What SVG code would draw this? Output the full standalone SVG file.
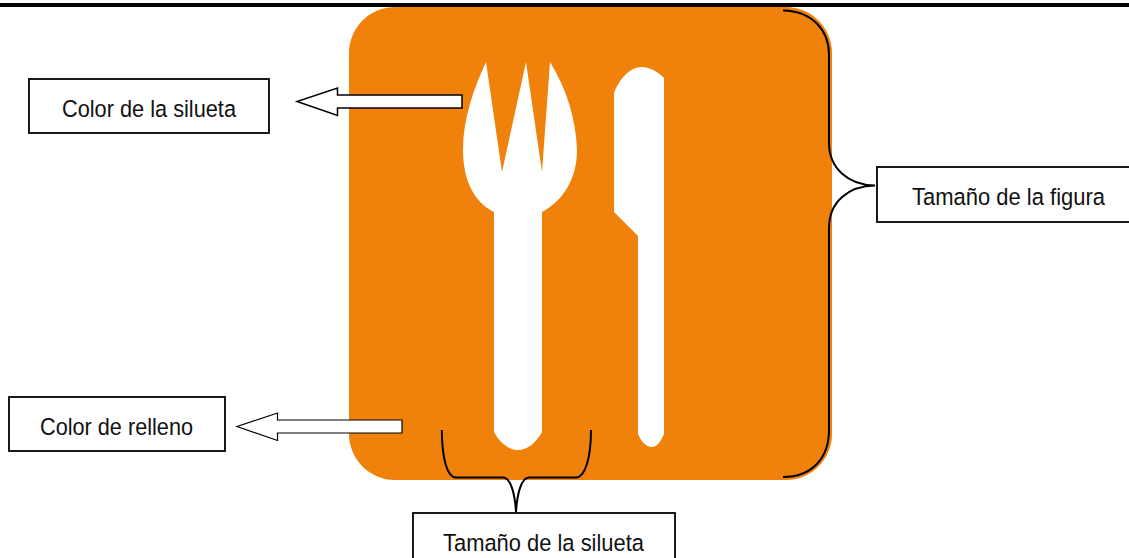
<svg xmlns="http://www.w3.org/2000/svg" width="1129" height="558" viewBox="0 0 1129 558">
<style>
.box{fill:#fff;stroke:#000;stroke-width:1.8}
.lbl{font-family:"Liberation Sans",Arial,sans-serif;font-size:24.5px;fill:#111;text-anchor:middle}
.arrow{fill:#fff;stroke:#000;stroke-width:1.2}
.brace{fill:none;stroke:#000;stroke-width:2}
.sil{fill:#fff}
</style>
<rect width="1129" height="558" fill="#fff"/>
<rect id="top-rule" x="0" y="3" width="1129" height="4" fill="#000"/>
<g id="figure">
<rect x="349" y="7" width="483" height="473" rx="46" ry="46" fill="#f0820c"/>
<path class="sil" d="M486 62 L502 172 L526 62 L542 172 L550 62 C566 88 576 118 577 150 C577 178 564 200 542 212 L542 432 C536 443 527 450 518 450 C509 450 500 443 494 432 L494 212 C474 202 463 180 463 150 C463 118 474 88 486 62 Z"/>
<path class="sil" d="M614 93 C620 78 630 67 642 67 C650 67 658 72 664 78 L664 434 C661 441 657 447 652 447 C646 447 641 441 638 434 L638 236 L614 212 Z"/>
</g>
<g id="connectors">
<path class="brace" d="M783 10.500C812 11 829 30 829 55 L829 143 C829 168 848 185 875 185.500 C848 186 829 202 829 228 L829 430 C829 458 812 477 783 477"/>
<path class="brace" d="M441.800 430 C442 458 447 477.500 456 477.500 L503 477.500 C511 477.500 515 495 516 512 C517 495 521 477.500 529 477.500 L576 477.500 C585 477.500 591 458 591 430"/>
</g>
<g id="arrow-silueta"><path class="arrow" d="M462 95 L337.500 95 L337.500 88 L297 101.500 L337.500 115.500 L337.500 108 L462 108 Z" style="stroke-width:1.500"/></g>
<g id="arrow-relleno"><path class="arrow" d="M402 420 L277.500 420 L277.500 413 L237 426.500 L277.500 440.500 L277.500 433 L402 433 Z"/></g>
<g id="node-color-silueta"><rect class="box" x="29" y="79" width="240" height="54"/><text class="lbl" x="149" y="116.500" textLength="174" lengthAdjust="spacingAndGlyphs">Color de la silueta</text></g>
<g id="node-color-relleno"><rect class="box" x="9" y="397" width="216" height="54"/><text class="lbl" x="116.500" y="434.500" textLength="153" lengthAdjust="spacingAndGlyphs">Color de relleno</text></g>
<g id="node-tamano-figura"><rect class="box" x="877" y="167" width="254" height="55"/><text class="lbl" x="1008.500" y="205" textLength="193" lengthAdjust="spacingAndGlyphs">Tamaño de la figura</text></g>
<g id="node-tamano-silueta"><rect class="box" x="413" y="513" width="262" height="50"/><text class="lbl" x="543.500" y="551" textLength="201" lengthAdjust="spacingAndGlyphs">Tamaño de la silueta</text></g>
</svg>
